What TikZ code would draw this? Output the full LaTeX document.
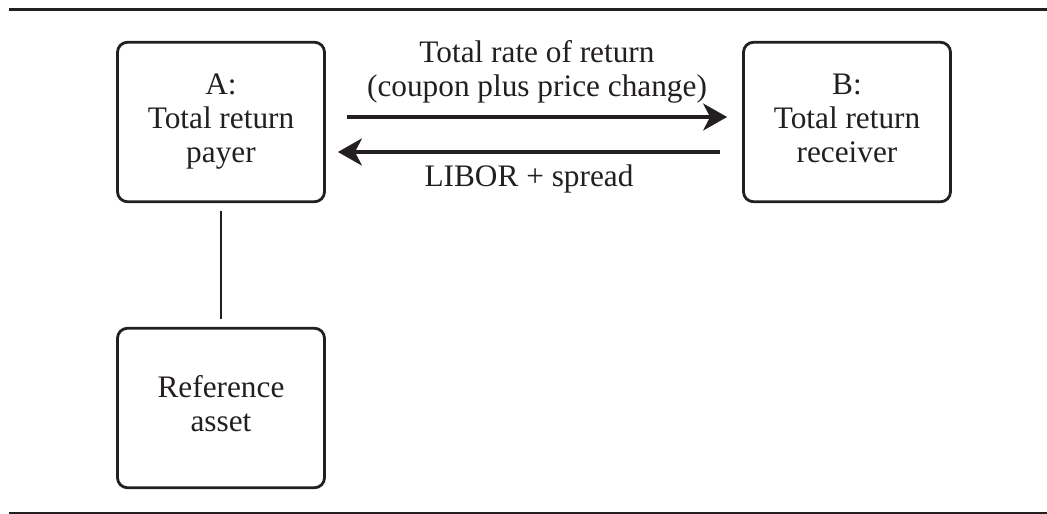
\documentclass[tikz,border=0pt]{standalone}
\usepackage{fontspec}
\setmainfont{Liberation Serif}
\usetikzlibrary{arrows.meta}
\definecolor{ink}{RGB}{35,31,32}
\begin{document}
\begin{tikzpicture}[x=1pt,y=-1pt,
  party/.style={draw=ink, line width=2.8pt, rounded corners=10pt,
    minimum width=207pt, minimum height=159.5pt, align=center, text=ink,
    inner sep=0pt, font=\fontsize{31.3}{34}\selectfont},
  lbl/.style={text=ink, align=center, inner sep=0pt,
    font=\fontsize{31.3}{34}\selectfont},
  flow/.style={draw=ink, line width=3.2pt,
    -{Stealth[length=24pt,width=27pt,inset=7pt]}},
  link/.style={draw=ink, line width=2.8pt, shorten <=8pt, shorten >=8pt}]
\useasboundingbox (0,0) rectangle (1047,514);
\draw[ink, line width=3pt] (9,9.5) -- (1047,9.5);
\draw[ink, line width=2pt] (9,512.5) -- (1047,512.5);
\node[party] (A) at (221,122) {\strut A:\\Total return\\payer\strut};
\node[party] (B) at (847,122) {\strut B:\\Total return\\receiver\strut};
\node[party] (R) at (221,408) {\strut Reference\\asset\strut};
\draw[link] (A.south) -- (R.north);
\draw[flow] ([shift={(21pt,5pt)}]A.east) -- ([shift={(-15pt,5pt)}]B.west)
  node[lbl, midway, above=12pt] (top) {Total rate of return\\(coupon plus price change)};
\draw[flow] ([shift={(-22pt,-30pt)}]B.west) -- ([shift={(12pt,-30pt)}]A.east)
  node[lbl, midway, below=11pt] (bot) {LIBOR + spread};
\end{tikzpicture}
\end{document}
